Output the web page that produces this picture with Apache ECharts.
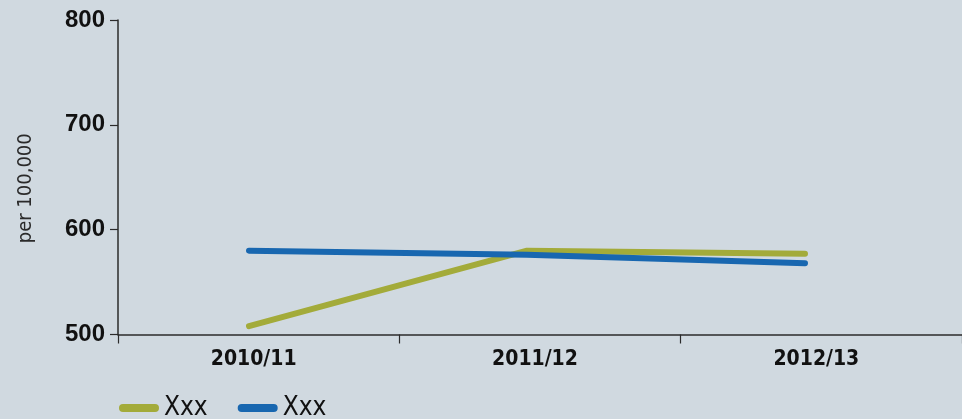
<!DOCTYPE html>
<html>
<head>
<meta charset="utf-8">
<title>Rate per 100,000</title>
<script src="https://cdn.jsdelivr.net/npm/echarts@6/dist/echarts.min.js"></script>
<style>
  html, body { margin: 0; padding: 0; background: #d0d9e0; }
  #chart { width: 962px; height: 419px; }
</style>
</head>
<body>
<div id="chart"></div>
<script>
// Financial years on the x axis
const years = ['2010/11', '2011/12', '2012/13'];
// Two series, rate per 100,000
const seriesNames = ['Xxx', 'Xxx '];
const greenValues = [508, 580, 577];
const blueValues = [580, 576, 568];
// y axis range
const yMin = 500;
const yMax = 800;
const yStep = 100;

const colors = ['#a3ab3a', '#1867b0'];
const axisColor = '#2b2b2b';
const condensed = '"Liberation Sans Narrow", "DejaVu Sans Condensed", sans-serif';
const pill = 'path://M4,0 H36 A4,4 0 0 1 36,8 H4 A4,4 0 0 1 4,0 Z';

const chart = echarts.init(document.getElementById('chart'));
chart.setOption({
  backgroundColor: '#d0d9e0',
  animation: false,
  legend: {
    left: 114,
    top: 390,
    itemWidth: 40,
    itemHeight: 8,
    itemGap: 30,
    icon: pill,
    textStyle: {
      fontFamily: condensed,
      fontSize: 26,
      color: '#111'
    },
    data: seriesNames
  },
  grid: [
    { left: 118, right: 0, top: 20, bottom: 84.5, containLabel: false },
    { left: 110, right: 18, top: 20, bottom: 84.5, containLabel: false }
  ],
  xAxis: [
    {
      type: 'category',
      gridIndex: 0,
      data: years,
      boundaryGap: true,
      axisLine: { lineStyle: { color: axisColor, width: 1.5 } },
      axisTick: { show: true, length: 9, lineStyle: { color: axisColor, width: 1.2 } },
      axisLabel: {
        margin: 15,
        padding: [0, 10, 0, 0],
        fontFamily: condensed,
        fontWeight: 'bold',
        fontSize: 21,
        color: '#111'
      },
      splitLine: { show: false }
    },
    {
      type: 'category',
      gridIndex: 1,
      data: years,
      boundaryGap: true,
      show: false
    }
  ],
  yAxis: [
    {
      type: 'value',
      gridIndex: 0,
      min: yMin,
      max: yMax,
      interval: yStep,
      name: 'per 100,000',
      nameLocation: 'middle',
      nameRotate: 90,
      nameGap: 82,
      nameTextStyle: {
        fontFamily: condensed,
        fontSize: 20,
        color: '#2a2a2a',
        padding: [0, 22, 0, 0]
      },
      axisLine: { show: true, lineStyle: { color: axisColor, width: 1.5 } },
      axisTick: { show: true, length: 8, lineStyle: { color: axisColor, width: 1.2 } },
      axisLabel: {
        margin: 13,
        fontFamily: '"Liberation Sans", Arial, sans-serif',
        fontWeight: 'bold',
        fontSize: 24,
        color: '#111'
      },
      splitLine: { show: false }
    },
    {
      type: 'value',
      gridIndex: 1,
      min: yMin,
      max: yMax,
      interval: yStep,
      show: false,
      splitLine: { show: false }
    }
  ],
  series: [
    {
      name: seriesNames[0],
      type: 'line',
      xAxisIndex: 1,
      yAxisIndex: 1,
      data: greenValues,
      showSymbol: false,
      symbol: 'none',
      color: colors[0],
      lineStyle: { width: 6, cap: 'round', join: 'round', color: colors[0] }
    },
    {
      name: seriesNames[1],
      type: 'line',
      xAxisIndex: 1,
      yAxisIndex: 1,
      data: blueValues,
      showSymbol: false,
      symbol: 'none',
      color: colors[1],
      lineStyle: { width: 6, cap: 'round', join: 'round', color: colors[1] }
    }
  ]
});
</script>
</body>
</html>
